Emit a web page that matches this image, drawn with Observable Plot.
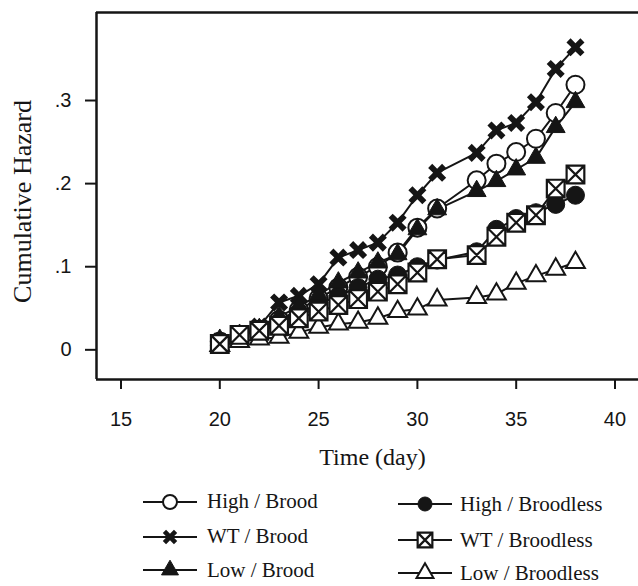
<!DOCTYPE html>
<html><head><meta charset="utf-8">
<script src="https://cdn.jsdelivr.net/npm/d3@7"></script>
<script src="https://cdn.jsdelivr.net/npm/@observablehq/plot@0.6"></script>
<style>
body{margin:0;background:#fff;}
#wrap{position:relative;width:638px;height:586px;background:#fff;}
#chart svg{display:block;}
.leg{position:absolute;height:24px;display:flex;align-items:center;font-family:"Liberation Serif","Times New Roman",serif;font-size:21px;color:#151515;white-space:nowrap;}
.legsym{position:absolute;}
</style></head><body><div id="wrap"><div id="chart"></div></div>
<script>
// ---- data ----
const days = [20,21,22,23,24,25,26,27,28,29,30,31,33,34,35,36,37,38];
const highBrood     = [0.010,0.017,0.024,0.036,0.048,0.062,0.075,0.088,0.100,0.117,0.147,0.170,0.204,0.224,0.238,0.254,0.285,0.319];
const wtBrood       = [0.010,0.017,0.028,0.057,0.065,0.079,0.111,0.120,0.129,0.153,0.186,0.213,0.237,0.264,0.273,0.298,0.338,0.364];
const lowBrood      = [0.012,0.018,0.025,0.040,0.052,0.066,0.081,0.093,0.105,0.115,0.145,0.169,0.191,0.203,0.217,0.231,0.268,0.298];
const highBroodless = [0.008,0.015,0.025,0.032,0.045,0.055,0.065,0.075,0.085,0.090,0.100,0.108,0.118,0.145,0.158,0.165,0.175,0.186];
const wtBroodless   = [0.007,0.018,0.023,0.029,0.038,0.046,0.054,0.061,0.070,0.079,0.093,0.109,0.114,0.136,0.153,0.162,0.194,0.211];
const lowBroodless  = [0.005,0.010,0.013,0.015,0.021,0.027,0.031,0.033,0.038,0.046,0.049,0.060,0.063,0.067,0.080,0.089,0.097,0.105];
const seriesNames = ["High / Brood","WT / Brood","Low / Brood","High / Broodless","WT / Broodless","Low / Broodless"];
const seriesValues = [highBrood, wtBrood, lowBrood, highBroodless, wtBroodless, lowBroodless];
const xTicks = [15,20,25,30,35,40];
const yTicks = [0,0.1,0.2,0.3];
const xTitle = "Time (day)";
const yTitle = "Cumulative Hazard";

// ---- symbols ----
const thickX = {draw(ctx, size){
  const r = Math.sqrt(size/Math.PI), a = 1.16*r, w = 0.34*r;
  const pts = [[w,-a],[w,-w],[a,-w],[a,w],[w,w],[w,a],[-w,a],[-w,w],[-a,w],[-a,-w],[-w,-w],[-w,-a]]
    .map(([x,y]) => [(x-y)/Math.SQRT2,(x+y)/Math.SQRT2]);
  ctx.moveTo(pts[0][0],pts[0][1]);
  for (let i=1;i<pts.length;i++) ctx.lineTo(pts[i][0],pts[i][1]);
  ctx.closePath();
}};
const boxX = {draw(ctx, size){
  const s = Math.sqrt(size)/2;
  ctx.moveTo(-s,-s); ctx.lineTo(s,-s); ctx.lineTo(s,s); ctx.lineTo(-s,s); ctx.closePath();
  ctx.moveTo(-s,-s); ctx.lineTo(s,s); ctx.moveTo(s,-s); ctx.lineTo(-s,s);
}};
const INK = "#151515";
const styles = {
  "High / Brood":     {symbol: d3.symbolCircle,   fill: "white", stroke: INK, strokeWidth: 2,   r: 9,   lr: 7},
  "WT / Brood":       {symbol: thickX,            fill: INK,     stroke: "none", strokeWidth: 0, r: 8.5, lr: 6.8},
  "Low / Brood":      {symbol: d3.symbolTriangle, fill: INK,     stroke: INK, strokeWidth: 1,   r: 7,   lr: 6.3},
  "High / Broodless": {symbol: d3.symbolCircle,   fill: INK,     stroke: INK, strokeWidth: 1,   r: 9,   lr: 7},
  "WT / Broodless":   {symbol: boxX,              fill: "white", stroke: INK, strokeWidth: 2.2, r: 10,  lr: 8.3},
  "Low / Broodless":  {symbol: d3.symbolTriangle, fill: "white", stroke: INK, strokeWidth: 2,   r: 7,   lr: 6.3}
};

const rows = [];
seriesNames.forEach((name, i) => days.forEach((d, j) => rows.push({series: name, day: d, value: seriesValues[i][j]})));

const xDomain = [13.76, 41.19];
const yDomain = [-0.0357, 0.4059];
const drawOrder = ["High / Brood","WT / Brood","High / Broodless","Low / Brood","Low / Broodless","WT / Broodless"];

const yFmt = d => d === 0 ? "0" : d3.format(".1f")(d).replace(/^0/, "");

const chart = Plot.plot({
  width: 638, height: 475,
  marginLeft: 96, marginRight: 0, marginTop: 12, marginBottom: 96,
  x: {domain: xDomain},
  y: {domain: yDomain},
  style: {fontFamily: "'Liberation Sans', Arial, sans-serif", fontSize: "20px", color: INK, background: "white"},
  marks: [
    Plot.ruleY([yDomain[0], yDomain[1]], {stroke: INK, strokeWidth: 2.5}),
    Plot.ruleX([xDomain[0]], {stroke: INK, strokeWidth: 2.5}),
    Plot.axisX({ticks: xTicks, tickSize: 10, tickPadding: 22, strokeWidth: 2, label: null, tickFormat: d => String(d)}),
    Plot.axisY({ticks: yTicks, tickSize: 11, tickPadding: 14, strokeWidth: 2, label: null, tickFormat: yFmt}),
    Plot.line(rows, {x: "day", y: "value", z: "series", stroke: INK, strokeWidth: 2}),
    ...drawOrder.map(name => {
      const s = styles[name];
      return Plot.dot(rows.filter(r => r.series === name), {x: "day", y: "value", symbol: s.symbol, r: s.r, fill: s.fill, stroke: s.stroke, strokeWidth: s.strokeWidth});
    }),
    Plot.text([xTitle], {text: d => d, frameAnchor: "bottom", textAnchor: "middle", dx: 5, dy: 78, lineAnchor: "middle", fontFamily: "'Liberation Serif', 'Times New Roman', serif", fontSize: 24, fill: INK}),
    Plot.text([yTitle], {text: d => d, frameAnchor: "left", textAnchor: "middle", rotate: -90, dx: -74, dy: 5.5, lineAnchor: "middle", fontFamily: "'Liberation Serif', 'Times New Roman', serif", fontSize: 26, fill: INK})
  ]
});
document.getElementById("chart").appendChild(chart);

// ---- legend (below the SVG) ----
const wrap = document.getElementById("wrap");
const legendTop = 475;
const cols = [{sym: 140, txt: 207}, {sym: 395, txt: 460}];
const rowCenters = [[26.7, 61.7, 95], [29, 65, 98]];
seriesNames.forEach((name, i) => {
  const c = i < 3 ? 0 : 1, r = i % 3;
  const cy = legendTop + rowCenters[c][r];
  const s = styles[name];
  const svg = d3.create("svg").attr("class", "legsym").attr("width", 60).attr("height", 24)
    .style("left", cols[c].sym + "px").style("top", (cy - 12) + "px");
  svg.append("line").attr("x1", 3).attr("x2", 57).attr("y1", 12).attr("y2", 12).attr("stroke", INK).attr("stroke-width", 2);
  svg.append("path").attr("transform", "translate(30,12)")
    .attr("d", d3.symbol().type(s.symbol).size(s.lr * s.lr * Math.PI)())
    .attr("fill", s.fill).attr("stroke", s.stroke).attr("stroke-width", s.strokeWidth);
  wrap.appendChild(svg.node());
  const t = document.createElement("div");
  t.className = "leg";
  t.style.left = cols[c].txt + "px";
  t.style.top = (cy - 12) + "px";
  t.textContent = name;
  wrap.appendChild(t);
});
</script></body></html>
